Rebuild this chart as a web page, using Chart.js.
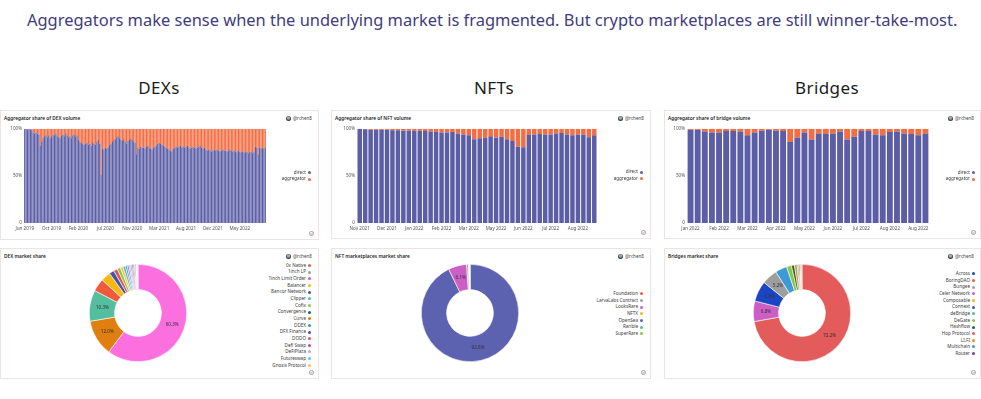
<!DOCTYPE html>
<html>
<head>
<meta charset="utf-8">
<title>Aggregator share</title>
<script src="https://cdn.jsdelivr.net/npm/chart.js"></script>
<style>
  body { margin: 0; width: 981px; height: 399px; position: relative; overflow: hidden; background: #fff; font-family: "Noto Sans", sans-serif; }
  .headline { position: absolute; left: 27px; top: 10px; font-size: 14px; color: #3f3d7d; white-space: nowrap; }
  .colhead { position: absolute; top: 76px; width: 200px; text-align: center; font-size: 17px; color: #1c1c1c; letter-spacing: 0.4px; }
  .panel { position: absolute; box-sizing: border-box; border: 1px solid #efe2e2; }
  .ptitle { position: absolute; left: 3px; top: 4px; font-size: 4.8px; line-height: 6px; font-weight: 600; color: #1e1e1e; white-space: nowrap; }
  .author { position: absolute; right: 6px; top: 4px; height: 6px; display: flex; align-items: center; font-size: 4.6px; color: #444; white-space: nowrap; }
  .avatar { width: 5px; height: 5px; border-radius: 50%; background: radial-gradient(circle at 50% 40%, #9aa 0 30%, #334 60%); margin-right: 1.5px; }
  .check { position: absolute; right: 4px; bottom: 3px; width: 5px; height: 5px; }
  .legend { position: absolute; text-align: right; font-size: 4.6px; color: #3a3a3a; }
  .legend div { height: 6.67px; line-height: 6.67px; white-space: nowrap; }
  .dot { display: inline-block; width: 3px; height: 3px; border-radius: 50%; margin-left: 2px; vertical-align: middle; }
  canvas { position: absolute; }
</style>
</head>
<body>
<div class="headline" id="headline">Aggregators make sense when the underlying market is fragmented. But crypto marketplaces are still winner-take-most.</div>
<div class="colhead" style="left:59px">DEXs</div>
<div class="colhead" style="left:394px">NFTs</div>
<div class="colhead" style="left:727px">Bridges</div>

<div class="panel" style="left:0;top:110px;width:319px;height:130px">
  <div class="ptitle">Aggregator share of DEX volume</div>
  <div class="author"><span class="avatar"></span>@rchen8</div>
  <svg class="check" viewBox="0 0 10 10"><circle cx="5" cy="5" r="4.2" fill="none" stroke="#555" stroke-width="1"/><path d="M3 5.2l1.5 1.5 2.7-3" fill="none" stroke="#555" stroke-width="1"/></svg>
</div>
<div class="panel" style="left:331px;top:110px;width:320px;height:129px">
  <div class="ptitle">Aggregator share of NFT volume</div>
  <div class="author"><span class="avatar"></span>@rchen8</div>
  <svg class="check" viewBox="0 0 10 10"><circle cx="5" cy="5" r="4.2" fill="none" stroke="#555" stroke-width="1"/><path d="M3 5.2l1.5 1.5 2.7-3" fill="none" stroke="#555" stroke-width="1"/></svg>
</div>
<div class="panel" style="left:664px;top:110px;width:317px;height:129px">
  <div class="ptitle">Aggregator share of bridge volume</div>
  <div class="author"><span class="avatar"></span>@rchen8</div>
  <svg class="check" viewBox="0 0 10 10"><circle cx="5" cy="5" r="4.2" fill="none" stroke="#555" stroke-width="1"/><path d="M3 5.2l1.5 1.5 2.7-3" fill="none" stroke="#555" stroke-width="1"/></svg>
</div>
<div class="panel" style="left:0;top:248px;width:319px;height:131px">
  <div class="ptitle">DEX market share</div>
  <div class="author"><span class="avatar"></span>@rchen8</div>
  <svg class="check" viewBox="0 0 10 10"><circle cx="5" cy="5" r="4.2" fill="none" stroke="#555" stroke-width="1"/><path d="M3 5.2l1.5 1.5 2.7-3" fill="none" stroke="#555" stroke-width="1"/></svg>
</div>
<div class="panel" style="left:331px;top:248px;width:320px;height:131px">
  <div class="ptitle">NFT marketplaces market share</div>
  <div class="author"><span class="avatar"></span>@rchen8</div>
  <svg class="check" viewBox="0 0 10 10"><circle cx="5" cy="5" r="4.2" fill="none" stroke="#555" stroke-width="1"/><path d="M3 5.2l1.5 1.5 2.7-3" fill="none" stroke="#555" stroke-width="1"/></svg>
</div>
<div class="panel" style="left:664px;top:248px;width:317px;height:131px">
  <div class="ptitle">Bridges market share</div>
  <div class="author"><span class="avatar"></span>@rchen8</div>
  <svg class="check" viewBox="0 0 10 10"><circle cx="5" cy="5" r="4.2" fill="none" stroke="#555" stroke-width="1"/><path d="M3 5.2l1.5 1.5 2.7-3" fill="none" stroke="#555" stroke-width="1"/></svg>
</div>

<canvas id="dexBar" width="268" height="111" style="left:2px;top:124px"></canvas>
<canvas id="nftBar" width="266" height="111" style="left:335px;top:124px"></canvas>
<canvas id="bridgeBar" width="268" height="111" style="left:665px;top:124px"></canvas>
<canvas id="dexPie" width="98" height="98" style="left:89px;top:264px"></canvas>
<canvas id="nftPie" width="98" height="98" style="left:421px;top:264px"></canvas>
<canvas id="bridgePie" width="98" height="98" style="left:753px;top:264px"></canvas>

<div class="legend" id="dexBarLegend" style="left:250px;top:168.7px;width:61px"></div>
<div class="legend" id="nftBarLegend" style="left:580px;top:168.3px;width:63px"></div>
<div class="legend" id="bridgeBarLegend" style="left:910px;top:168.7px;width:65px"></div>
<div class="legend" id="dexPieLegend" style="left:220px;top:261.7px;width:91px"></div>
<div class="legend" id="nftPieLegend" style="left:560px;top:290px;width:83px"></div>
<div class="legend" id="bridgePieLegend" style="left:890px;top:270px;width:85px"></div>

<script>
// weekly share of volume, in percent
const seriesNames = ["direct", "aggregator"];

const dexTicks = ["Jun 2019", "Oct 2019", "Feb 2020", "Jul 2020", "Nov 2020", "Mar 2021", "Aug 2021", "Dec 2021", "May 2022"];
const dexTickStep = 19;
const dexDirect = [
  100, 100, 99, 100, 99, 99,
  96, 95, 96, 95, 94,
  82, 86,
  90, 92, 93, 91, 93,
  90, 92, 94, 93, 95, 92,
  91, 90, 93, 94, 92, 95, 93,
  91, 92, 90, 93, 94, 92, 93,
  88, 86, 85, 84, 83, 84, 85,
  83, 84, 82, 85, 84, 83, 86, 88, 84,
  51,
  79, 78, 80, 79, 80,
  83, 84, 86, 88,
  89, 91, 92, 90, 88, 87, 89,
  86, 84, 87, 88, 90, 88, 86,
  85, 73, 80,
  79, 81, 80, 80, 79,
  81, 82, 80, 79, 78, 80, 81,
  82, 84, 85, 84, 83, 82, 81,
  80, 79, 78, 77, 76, 79, 80,
  81, 80, 81, 82, 80, 81, 80,
  81, 82, 80, 79, 80, 81, 80,
  79, 80, 81, 82, 80, 79, 80,
  78, 77, 78, 77, 76, 77, 78,
  77, 78, 77, 76, 77, 78, 77,
  77, 76, 77, 78, 77, 76, 77,
  76, 75, 77, 76, 75, 76, 75,
  75, 76, 74, 75, 76, 74, 75,
  81, 80, 73, 80, 79, 80, 79, 80
];

const nftTicks = ["Nov 2021", "Dec 2021", "Jan 2022", "Feb 2022", "Mar 2022", "May 2022", "Jun 2022", "Jul 2022", "Aug 2022"];
const nftTickStep = 5;
const nftDirect = [
  100, 99.5, 99, 99, 99, 99, 98.5, 98.5, 98, 98,
  98, 98, 97.5, 97, 96.5, 96, 96, 96.5, 95, 94,
  93, 89, 90, 90.5, 92, 90.5, 91.5, 89, 87, 81,
  80.5, 93.5, 94, 94.5, 94, 94, 95, 95.5, 94, 93,
  94, 94, 91, 93
];

const bridgeTicks = ["Jan 2022", "Feb 2022", "Mar 2022", "Apr 2022", "May 2022", "Jun 2022", "Jul 2022", "Aug 2022", "Aug 2022"];
const bridgeTickStep = 4;
const bridgeDirect = [
  99, 99, 97, 96, 96, 97.5, 97.5, 97, 93, 96,
  98, 99, 98, 97.5, 86, 90.5, 96, 88.5, 95, 94.5,
  95, 97, 88.5, 91.5, 97.5, 97.5, 94, 93, 96.5, 97,
  95, 94.5, 93, 95
];

// market share, percent, in slice order
const dexNames = ["Uniswap", "Curve", "Sushiswap", "0x Native", "Balancer", "Bancor Network", "DODO", "Cofix",
  "Gnosis Protocol", "Clipper", "DDEX", "1inch Limit Order", "Futureswap", "1inch LP", "DFX Finance", "Defi Swap",
  "DeFiPlaza", "Convergence", "Shell", "Swapr", "Saddle"];
const dexShare = [60.2, 12.0, 10.3, 4.3, 3.2, 1.6, 1.3, 1.1, 0.9, 0.8, 0.6, 0.6, 0.5, 0.5, 0.4, 0.4, 0.3, 0.3, 0.2, 0.2, 0.2];
const dexLegend = ["0x Native", "1inch LP", "1inch Limit Order", "Balancer", "Bancor Network", "Clipper", "Cofix",
  "Convergence", "Curve", "DDEX", "DFX Finance", "DODO", "Defi Swap", "DeFiPlaza", "Futureswap", "Gnosis Protocol"];

const nftNames = ["OpenSea", "LooksRare", "LarvaLabs Contract", "NFTX", "Foundation", "Rarible", "SuperRare"];
const nftShare = [92.8, 6.1, 0.6, 0.2, 0.15, 0.1, 0.05];
const nftLegend = ["Foundation", "LarvaLabs Contract", "LooksRare", "NFTX", "OpenSea", "Rarible", "SuperRare"];

const bridgeNames = ["Hop Protocol", "Celer Network", "Across", "Bungee", "Multichain", "DeGate", "Hashflow", "LI.FI",
  "deBridge", "Connext", "Composable", "Router", "BoringDAO"];
const bridgeShare = [72.1, 6.8, 6.8, 5.2, 3.9, 1.6, 1.0, 0.9, 0.5, 0.4, 0.3, 0.2, 0.2];
const bridgeLegend = ["Across", "BoringDAO", "Bungee", "Celer Network", "Composable", "Connext", "deBridge", "DeGate",
  "Hashflow", "Hop Protocol", "LI.FI", "Multichain", "Router"];

// colours
const BLUE = "#5b5ea6";
const ORANGE = "#f46d43";
const dexColors = ["#fb6fdf", "#e07e10", "#53bf9f", "#ef5a3c", "#f5b90f", "#4353a8", "#e35555", "#8cc63f",
  "#f3c15a", "#4fbfa0", "#3d8fd8", "#cc5fc4", "#5ec6e4", "#9e9e9e", "#6b3fa0", "#d6418e",
  "#b0b0b0", "#1f6b45", "#a8d8ea", "#f0a0c8", "#c8c8c8"];
const nftColors = ["#5d62b0", "#cc5fc4", "#9e9e9e", "#f5b90f", "#ef5a3c", "#4fbfa0", "#8cc63f"];
const bridgeColors = ["#e35b5b", "#cc5fc4", "#1c45c6", "#9e9e9e", "#3d9ad6", "#8cc63f", "#1f6b45", "#f08c1a",
  "#4fbfa0", "#4b55a8", "#f5b90f", "#6b3fa0", "#ef5a3c"];

Chart.defaults.font.family = '"Noto Sans", sans-serif';

// fit the headline to the width it has in the article
const head = document.getElementById("headline");
head.style.fontSize = (14 * 931 / head.offsetWidth) + "px";
head.style.top = (10 - (parseFloat(head.style.fontSize) - 14) * 0.7) + "px";

function tickLabels(values, ticks, step) {
  return values.map((v, i) => (i % step === 0 && ticks[i / step]) ? ticks[i / step] : "");
}

function barChart(id, labels, direct, barPct) {
  const aggregator = direct.map(v => 100 - v);
  new Chart(document.getElementById(id), {
    type: "bar",
    data: {
      labels: labels,
      datasets: [
        { label: seriesNames[0], data: direct, backgroundColor: BLUE, barPercentage: barPct, categoryPercentage: 1 },
        { label: seriesNames[1], data: aggregator, backgroundColor: ORANGE, barPercentage: barPct, categoryPercentage: 1 }
      ]
    },
    options: {
      responsive: false,
      animation: false,
      layout: { padding: { top: 4, right: 4, left: 0, bottom: 0 } },
      plugins: { legend: { display: false }, tooltip: { enabled: false } },
      scales: {
        x: {
          stacked: true,
          grid: { display: false, drawTicks: false },
          border: { display: false },
          ticks: { autoSkip: false, maxRotation: 0, padding: 2.5, font: { size: 4.6 }, color: "#555" },
          afterFit: s => { s.height = 12; }
        },
        y: {
          stacked: true, min: 0, max: 100,
          grid: { display: false, drawTicks: false },
          border: { display: false },
          ticks: { stepSize: 50, padding: 2, font: { size: 4.6 }, color: "#555",
            callback: v => v === 0 ? "0" : v + "%" },
          afterFit: s => { s.width = 22; }
        }
      }
    }
  });
}

const sliceLabels = {
  id: "sliceLabels",
  afterDatasetsDraw(chart) {
    const ctx = chart.ctx;
    const data = chart.data.datasets[0].data;
    const total = data.reduce((a, b) => a + b, 0);
    chart.getDatasetMeta(0).data.forEach((arc, i) => {
      const pct = data[i] / total * 100;
      if (pct < 5) return;
      const p = arc.tooltipPosition();
      ctx.save();
      ctx.font = '4.6px "Noto Sans"';
      ctx.fillStyle = "#333";
      ctx.textAlign = "center";
      ctx.textBaseline = "middle";
      ctx.fillText(pct.toFixed(1) + "%", p.x, p.y);
      ctx.restore();
    });
  }
};

function pieChart(id, names, share, colors) {
  new Chart(document.getElementById(id), {
    type: "doughnut",
    data: {
      labels: names,
      datasets: [{ data: share, backgroundColor: colors, borderColor: "#fff", borderWidth: 0.6, hoverOffset: 0 }]
    },
    options: {
      responsive: false,
      animation: false,
      cutout: "48%",
      plugins: { legend: { display: false }, tooltip: { enabled: false } }
    },
    plugins: [sliceLabels]
  });
}

function legend(id, names, colors) {
  const el = document.getElementById(id);
  names.forEach((n, i) => {
    const row = document.createElement("div");
    row.appendChild(document.createTextNode(n));
    const dot = document.createElement("span");
    dot.className = "dot";
    dot.style.background = colors[i];
    row.appendChild(dot);
    el.appendChild(row);
  });
}

function colorsFor(order, names, colors) {
  return order.map(n => colors[names.indexOf(n)]);
}

barChart("dexBar", tickLabels(dexDirect, dexTicks, dexTickStep), dexDirect, 0.85);
barChart("nftBar", tickLabels(nftDirect, nftTicks, nftTickStep), nftDirect, 0.82);
barChart("bridgeBar", tickLabels(bridgeDirect, bridgeTicks, bridgeTickStep), bridgeDirect, 0.83);

pieChart("dexPie", dexNames, dexShare, dexColors);
pieChart("nftPie", nftNames, nftShare, nftColors);
pieChart("bridgePie", bridgeNames, bridgeShare, bridgeColors);

legend("dexBarLegend", seriesNames, [BLUE, ORANGE]);
legend("nftBarLegend", seriesNames, [BLUE, ORANGE]);
legend("bridgeBarLegend", seriesNames, [BLUE, ORANGE]);
legend("dexPieLegend", dexLegend, colorsFor(dexLegend, dexNames, dexColors));
legend("nftPieLegend", nftLegend, colorsFor(nftLegend, nftNames, nftColors));
legend("bridgePieLegend", bridgeLegend, colorsFor(bridgeLegend, bridgeNames, bridgeColors));
</script>
</body>
</html>
